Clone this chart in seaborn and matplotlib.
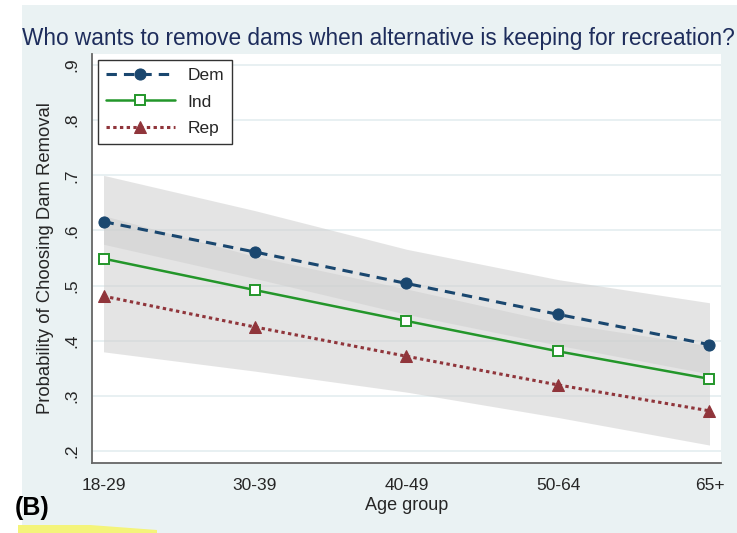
import numpy as np
import pandas as pd
import matplotlib
matplotlib.use("Agg")
import matplotlib.pyplot as plt
from matplotlib.patches import Rectangle, Polygon
import seaborn as sns

# Data
age_groups = ["18-29", "30-39", "40-49", "50-64", "65+"]
dem = [0.616, 0.561, 0.504, 0.448, 0.393]
ind = [0.549, 0.492, 0.436, 0.381, 0.331]
rep = [0.481, 0.425, 0.372, 0.320, 0.273]

# Shaded confidence bands (two overlapping grey areas)
upper_ci_lo = [0.575, 0.513, 0.448, 0.392, 0.340]
upper_ci_hi = [0.700, 0.636, 0.566, 0.511, 0.469]
lower_ci_lo = [0.380, 0.345, 0.307, 0.261, 0.211]
lower_ci_hi = [0.627, 0.553, 0.494, 0.433, 0.391]

y_ticks = [0.2, 0.3, 0.4, 0.5, 0.6, 0.7, 0.8, 0.9]
y_tick_labels = [".2", ".3", ".4", ".5", ".6", ".7", ".8", ".9"]

df = pd.DataFrame({"age": age_groups, "Dem": dem, "Ind": ind, "Rep": rep})

sns.set_style("white")
plt.rcParams["font.family"] = ["Liberation Sans", "DejaVu Sans"]

bg = "#eaf2f3"
navy = "#1a476f"
green = "#23962a"
maroon = "#90353b"

fig = plt.figure(figsize=(7.37, 5.33), dpi=100, facecolor=bg)
# white strips at left and top edge of the screenshot
fig.patches.append(Rectangle((0, 0), 22 / 737, 1, transform=fig.transFigure,
                             facecolor="white", edgecolor="none", zorder=-5))
fig.patches.append(Rectangle((0, 1 - 5 / 533), 1, 5 / 533, transform=fig.transFigure,
                             facecolor="white", edgecolor="none", zorder=-5))
# yellow highlighter stroke at the bottom
fig.patches.append(Polygon([[18 / 737, 0], [18 / 737, 8 / 533], [90 / 737, 8 / 533],
                            [157 / 737, 3 / 533], [157 / 737, 0]],
                           closed=True, transform=fig.transFigure,
                           facecolor="#f4f47a", edgecolor="none", zorder=-4))

ax = fig.add_axes([92.3 / 737, 70.3 / 533, 628.7 / 737, 408.7 / 533])
ax.set_facecolor("white")

# confidence bands
ax.fill_between(df["age"], lower_ci_lo, lower_ci_hi, color="#cfcfcf", alpha=0.55,
                linewidth=0, zorder=1)
ax.fill_between(df["age"], upper_ci_lo, upper_ci_hi, color="#cfcfcf", alpha=0.55,
                linewidth=0, zorder=1)

# lines
sns.lineplot(data=df, x="age", y="Dem", ax=ax, color=navy, linewidth=2.2,
             linestyle=(0, (3.4, 2.3)), marker="o", markersize=8,
             markeredgecolor=navy, label="Dem", zorder=3)
sns.lineplot(data=df, x="age", y="Ind", ax=ax, color=green, linewidth=1.8,
             marker="s", markersize=7, markerfacecolor="white",
             markeredgecolor=green, markeredgewidth=1.4, label="Ind", zorder=3)
sns.lineplot(data=df, x="age", y="Rep", ax=ax, color=maroon, linewidth=2.2,
             linestyle=(0, (1.1, 1.1)), marker="^", markersize=9,
             markeredgecolor=maroon, label="Rep", zorder=3)

ax.set_xlim(-0.074, 4.076)
ax.set_ylim(0.179, 0.92)
ax.set_yticks(y_ticks)
ax.set_yticklabels(y_tick_labels, rotation=90, va="center", fontsize=12.5)
ax.tick_params(axis="x", labelsize=12.5, length=5, width=1, color="#555555", pad=6)
ax.tick_params(axis="y", length=5, width=1, color="#555555", pad=4)
ax.grid(axis="y", color="#e4eef0", linewidth=1.2, zorder=0)
ax.set_axisbelow(True)

for side in ["top", "right"]:
    ax.spines[side].set_visible(False)
for side in ["left", "bottom"]:
    ax.spines[side].set_color("#666666")
    ax.spines[side].set_linewidth(1.3)

ax.set_xlabel("Age group", fontsize=13, labelpad=3)
ax.set_ylabel("Probability of Choosing Dam Removal", fontsize=13.3, labelpad=8)

leg = ax.legend(loc="upper left", bbox_to_anchor=(0.009, 0.985), fontsize=12.5,
                handlelength=4.0, handletextpad=0.7, labelspacing=0.65,
                borderpad=0.45, borderaxespad=0, fancybox=False, framealpha=1,
                edgecolor="#333333")
leg.get_frame().set_linewidth(1)

fig.text(378 / 737, 1 - 38 / 533,
         "Who wants to remove dams when alternative is keeping for recreation?",
         ha="center", va="center", fontsize=16.3, color="#1e2d5c")
fig.text(15 / 737, 1 - 508 / 533, "(B)", ha="left", va="center",
         fontsize=18, fontweight="bold", color="black")

fig.savefig("out.png", dpi=100, facecolor=bg)
